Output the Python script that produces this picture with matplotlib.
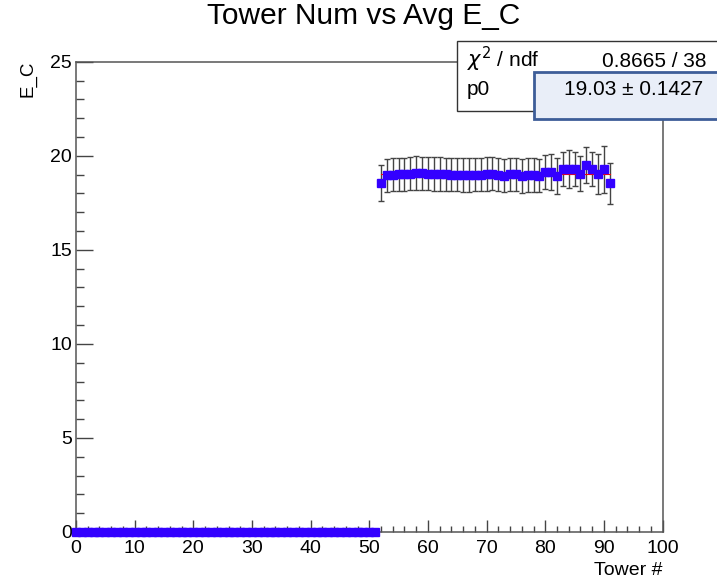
"""Tower Num vs Avg E_C (ROOT style re-draw)"""
import numpy as np
import matplotlib
matplotlib.use('Agg')
import matplotlib.pyplot as plt
from matplotlib.patches import Rectangle

plt.rcParams['font.family'] = ['Liberation Sans', 'DejaVu Sans']

# towers 0..51: empty (all zero)
tower_low = np.arange(0, 52)
avg_low = [0.0] * 52

# towers 52..91: filled
tower_high = np.arange(52, 92)
avg_high = [18.55, 18.97, 19.00, 19.02, 19.02, 19.05, 19.10, 19.08, 19.05, 19.03,
            19.03, 19.02, 19.00, 19.00, 18.98, 18.98, 19.00, 19.00, 19.03, 19.05,
            19.00, 18.95, 19.02, 19.02, 18.92, 19.00, 18.98, 18.95, 19.15, 19.15,
            18.93, 19.28, 19.28, 19.28, 19.05, 19.50, 19.28, 19.05, 19.28, 18.53]
err_high = [0.95, 0.88, 0.88, 0.88, 0.88, 0.88, 0.90, 0.88, 0.88, 0.88,
            0.88, 0.88, 0.88, 0.88, 0.88, 0.88, 0.88, 0.88, 0.88, 0.88,
            0.88, 0.88, 0.88, 0.88, 0.92, 0.90, 0.90, 0.90, 0.90, 0.95,
            0.95, 0.90, 1.00, 0.90, 0.93, 0.95, 0.90, 1.06, 1.25, 1.10]

# fit result (pol0)
p0 = 19.03
p0_err = 0.1427
chi2 = 0.8665
ndf = 38

fig = plt.figure(figsize=(7.17, 5.80), dpi=100)
ax = fig.add_axes([76 / 717, 1 - 532 / 580, (662.6 - 76) / 717, (532 - 61.7) / 580])

mcol = '#3300ff'
ax.errorbar(tower_high, avg_high, yerr=err_high, fmt='none', ecolor='#444444',
            elinewidth=1.0, capsize=2.5, capthick=1.0, zorder=2)
ax.plot([tower_high[0], tower_high[-1]], [p0, p0], color='red', linewidth=0.8, zorder=2.5)
ax.plot(tower_high, avg_high, 's', color=mcol, markersize=5.7, zorder=3, clip_on=False)
ax.plot(tower_low, avg_low, 's', color=mcol, markersize=5.5, zorder=3, clip_on=False)

ax.set_xlim(0, 100)
ax.set_ylim(0, 25)
ax.set_xticks(np.arange(0, 101, 10))
ax.set_xticks(np.arange(0, 101, 2), minor=True)
ax.set_yticks(np.arange(0, 26, 5))
ax.set_yticks(np.arange(0, 26, 1), minor=True)
ax.tick_params(axis='both', which='both', direction='in', top=False, right=False,
               labelsize=14, colors='#444444', labelcolor='black')
ax.tick_params(axis='x', which='major', length=9, width=1.0, pad=5.5)
ax.tick_params(axis='x', which='minor', length=4.5, width=1.0)
ax.tick_params(axis='y', which='major', length=12, width=1.0, pad=3)
ax.tick_params(axis='y', which='minor', length=6, width=1.0)
for s in ax.spines.values():
    s.set_color('#555555')
    s.set_linewidth(1.1)

fig.text(364 / 717, 1 - 24 / 580, 'Tower Num vs Avg E_C', ha='center', va='baseline', fontsize=21.5)
fig.text(663 / 717, 1 - 575 / 580, 'Tower #', ha='right', va='baseline', fontsize=14)
fig.text(28 / 717, 1 - 61 / 580, 'E_C', rotation=90, ha='center', va='top', fontsize=13.5)

# stats box
fig.patches.append(Rectangle((457 / 717, 1 - 111 / 580), 0.5, 70 / 580,
                             transform=fig.transFigure, facecolor='white',
                             edgecolor='#333333', linewidth=1.0, zorder=5))
fig.patches.append(Rectangle((534 / 717, 1 - 119 / 580), 0.5, 47 / 580,
                             transform=fig.transFigure, facecolor='#e9eef8',
                             edgecolor='#3d5d98', linewidth=2.0, zorder=6))
fig.text(467 / 717, 1 - 67 / 580, r'$\chi^{2}$ / ndf', ha='left', va='baseline',
         fontsize=15, zorder=7)
fig.text(707 / 717, 1 - 67 / 580, f'{chi2:.4f} / {ndf}', ha='right', va='baseline',
         fontsize=15, zorder=7)
fig.text(467 / 717, 1 - 95 / 580, 'p0', ha='left', va='baseline', fontsize=15, zorder=7)
fig.text(703 / 717, 1 - 95 / 580, f'{p0:.2f} \u00b1 {p0_err:.4f}', ha='right',
         va='baseline', fontsize=15, zorder=7)

fig.savefig('out.png', dpi=100)
plt.close(fig)
